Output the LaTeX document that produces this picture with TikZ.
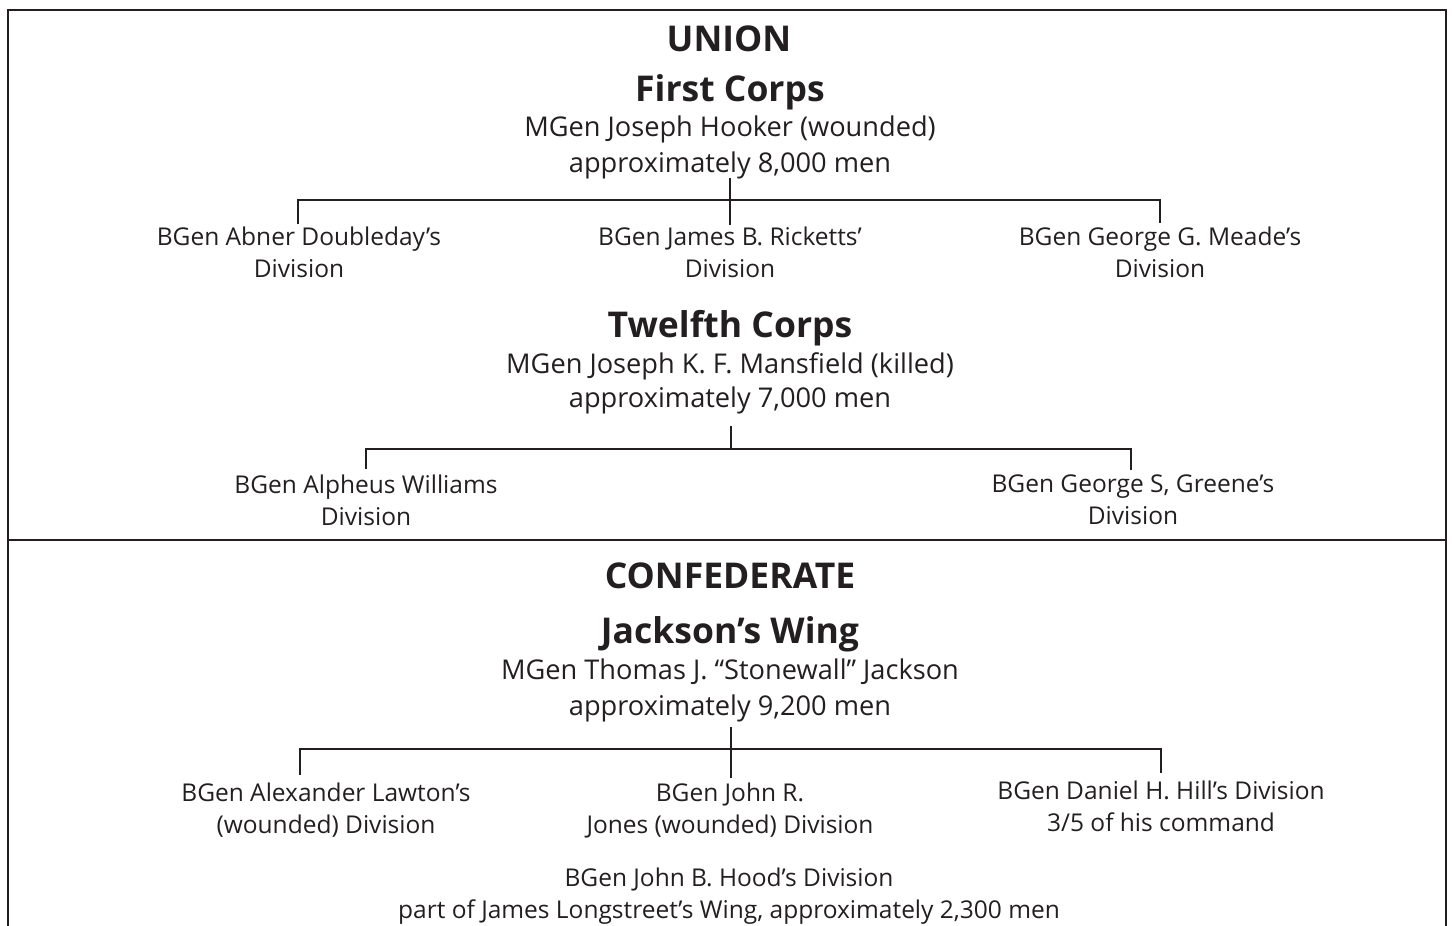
\documentclass[tikz,border=0pt]{standalone}
\usepackage{fontspec}
\setmainfont{Open Sans}
\definecolor{ink}{HTML}{231F20}
\tikzset{
  hd/.style={anchor=base, inner sep=0pt, text=ink, font=\fontsize{35.5}{40}\selectfont\bfseries},
  cmd/.style={anchor=base, inner sep=0pt, text=ink, font=\fontsize{27.2}{32}\selectfont},
  tx/.style={anchor=base, inner sep=0pt, text=ink, font=\fontsize{24.5}{29}\selectfont},
  conn/.style={draw=ink, line width=2pt},
  stem/.style={draw=ink, line width=2.6pt},
  frame/.style={draw=ink, line width=2pt}
}
\begin{document}
\begin{tikzpicture}[x=1pt,y=-1pt]
\useasboundingbox (0,0) rectangle (1452,926);
% frame
\draw[frame] (8,935) -- (8,10) -- (1446,10) -- (1446,935);
\draw[frame] (8,540) -- (1446,540);

% UNION
\node[hd] (union) at (729,51) {UNION};
\node[hd] (first) at (730,101) {First Corps};
\node[cmd] (hooker) at (730,136) {MGen Joseph Hooker (wounded)};
\node[cmd] (hookerN) at (730,172) {approximately 8,000 men};
\node[tx] (doub1) at (299,245) {BGen Abner Doubleday’s};
\node[tx] (doub2) at (299,277) {Division};
\node[tx] (rick1) at (730,245) {BGen James B. Ricketts’};
\node[tx] (rick2) at (730,277) {Division};
\node[tx] (mead1) at (1160,245) {BGen George G. Meade’s};
\node[tx] (mead2) at (1160,277) {Division};

\coordinate (fcA) at (730,178);
\coordinate (fcB) at (730,225);
\coordinate (fcL) at (298,200);
\coordinate (fcR) at (1160,200);
\coordinate (fcLd) at (298,224);
\coordinate (fcRd) at (1160,223);
\draw[stem] (fcA) -- (fcB);
\draw[conn] (fcLd) -- (fcL) -- (fcR) -- (fcRd);

\node[hd] (twelfth) at (730,337) {Twelfth Corps};
\node[cmd] (mans) at (730,373) {MGen Joseph K. F. Mansfield (killed)};
\node[cmd] (mansN) at (730,407) {approximately 7,000 men};
\node[tx] (will1) at (366,493) {BGen Alpheus Williams};
\node[tx] (will2) at (366,525) {Division};
\node[tx] (gree1) at (1133,492) {BGen George S, Greene’s};
\node[tx] (gree2) at (1133,524) {Division};

\coordinate (tcA) at (731,426);
\coordinate (tcB) at (731,449);
\coordinate (tcL) at (366,449);
\coordinate (tcR) at (1131,449);
\coordinate (tcLd) at (366,469);
\coordinate (tcRd) at (1131,470);
\draw[stem] (tcA) -- (tcB);
\draw[conn] (tcLd) -- (tcL) -- (tcR) -- (tcRd);

% CONFEDERATE
\node[hd] (conf) at (730,588) {CONFEDERATE};
\node[hd] (jw) at (730,643) {Jackson’s Wing};
\node[cmd] (jack) at (730,679) {MGen Thomas J. “Stonewall” Jackson};
\node[cmd] (jackN) at (730,715) {approximately 9,200 men};
\node[tx] (law1) at (326,801) {BGen Alexander Lawton’s};
\node[tx] (law2) at (326,833) {(wounded) Division};
\node[tx] (jon1) at (730,801) {BGen John R.};
\node[tx] (jon2) at (730,833) {Jones (wounded) Division};
\node[tx] (hill1) at (1161,799) {BGen Daniel H. Hill’s Division};
\node[tx] (hill2) at (1161,831) {3/5 of his command};
\node[tx] (hood1) at (729,886) {BGen John B. Hood’s Division};
\node[tx] (hood2) at (729,918) {part of James Longstreet’s Wing, approximately 2,300 men};

\coordinate (jwA) at (731,727);
\coordinate (jwB) at (731,778);
\coordinate (jwL) at (300,749);
\coordinate (jwR) at (1161,749);
\coordinate (jwLd) at (300,775);
\coordinate (jwRd) at (1161,773);
\draw[stem] (jwA) -- (jwB);
\draw[conn] (jwLd) -- (jwL) -- (jwR) -- (jwRd);
\end{tikzpicture}
\end{document}
